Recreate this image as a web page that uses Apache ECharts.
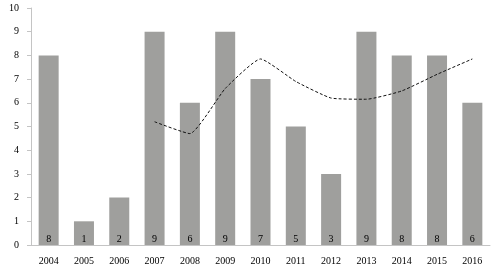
<!DOCTYPE html>
<html>
<head>
<meta charset="utf-8">
<script src="https://cdn.jsdelivr.net/npm/echarts@6/dist/echarts.min.js"></script>
<style>
  html, body { margin: 0; padding: 0; background: #fff; }
  #main { width: 496px; height: 268px; }
</style>
</head>
<body>
<div id="main"></div>
<script>
// 年份
var years = ['2004','2005','2006','2007','2008','2009','2010','2011','2012','2013','2014','2015','2016'];
// 柱状数据
var counts = [8, 1, 2, 9, 6, 9, 7, 5, 3, 9, 8, 8, 6];
// 虚线 (从2007开始)
var trend = [null, null, null, 5.2, 4.7, 6.6, 7.85, 6.9, 6.2, 6.15, 6.5, 7.2, 7.85];

var myChart = echarts.init(document.getElementById('main'));
var font = '"Liberation Serif", "Times New Roman", serif';

var option = {
    animation: false,
    grid: { left: 31, right: 6, top: 8, bottom: 23 },
    xAxis: {
        type: 'category',
        data: years,
        axisLine: { lineStyle: { color: '#c4c4c4' } },
        axisTick: { show: false },
        axisLabel: { color: '#000', fontFamily: font, fontSize: 10, margin: 11 }
    },
    yAxis: {
        type: 'value',
        min: 0, max: 10, interval: 1,
        splitLine: { show: false },
        axisLine: { show: true, lineStyle: { color: '#c4c4c4' } },
        axisTick: { show: true, length: 4, lineStyle: { color: '#c4c4c4' } },
        axisLabel: { color: '#000', fontFamily: font, fontSize: 10, margin: 12 }
    },
    series: [{
        type: 'bar',
        data: counts,
        barWidth: 20,
        itemStyle: { color: '#9f9f9d' },
        label: {
            show: true,
            position: 'insideBottom',
            distance: 1,
            color: '#000',
            fontFamily: font,
            fontSize: 10
        }
    }, {
        type: 'line',
        data: trend,
        smooth: 0.15,
        symbol: 'none',
        lineStyle: { color: '#111', width: 1, type: [3, 2] }
    }]
};
myChart.setOption(option);
</script>
</body>
</html>
